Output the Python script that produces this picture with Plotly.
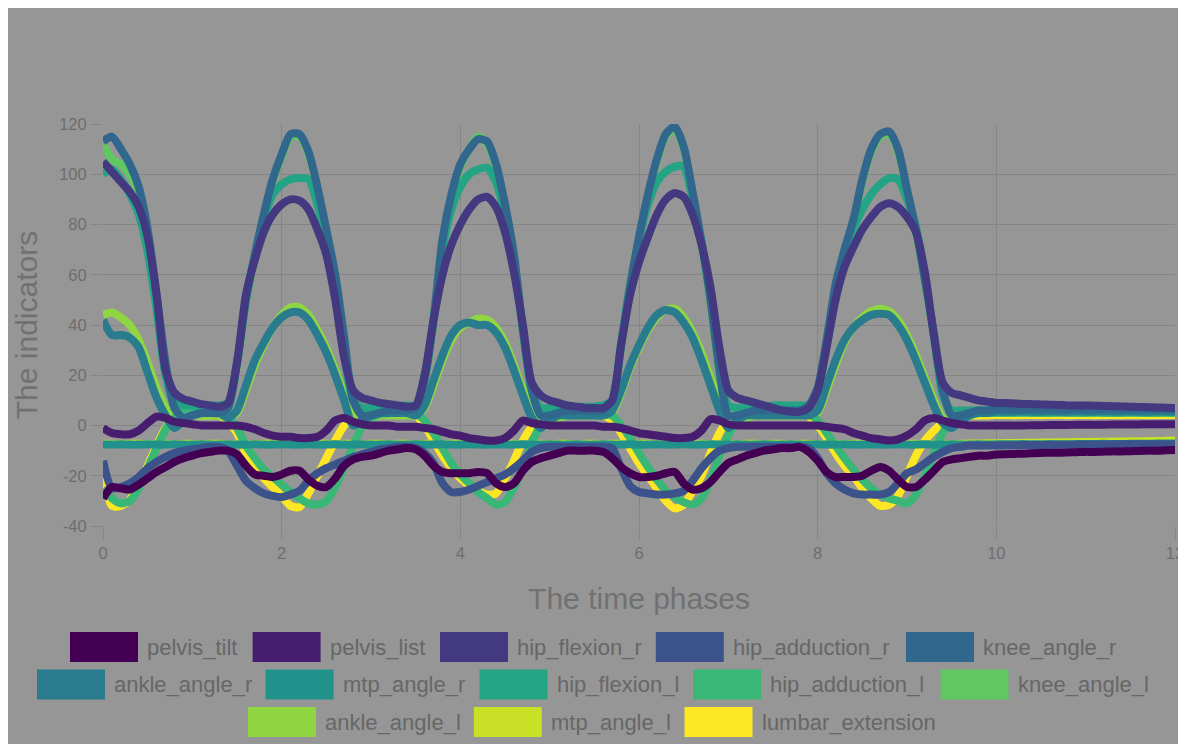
import plotly.graph_objects as go

# ---------------- data ----------------
TIME = [round(0.1 * i, 1) for i in range(121)]

NAMES = ["pelvis_tilt", "pelvis_list", "hip_flexion_r", "hip_adduction_r", "knee_angle_r",
         "ankle_angle_r", "mtp_angle_r", "hip_flexion_l", "hip_adduction_l", "knee_angle_l",
         "ankle_angle_l", "mtp_angle_l", "lumbar_extension"]

X_TICKS = [0, 2, 4, 6, 8, 10, 12]
X_TICK_TEXT = ["0", "2", "4", "6", "8", "10", "12"]
Y_TICKS = [-40, -20, 0, 20, 40, 60, 80, 100, 120]
Y_TICK_TEXT = ["-40", "-20", "0", "20", "40", "60", "80", "100", "120"]

pelvis_tilt = [
    -29, -24.5, -25, -25.5, -23.5, -21, -18.5, -16.5, -14.5, -13,
    -12, -11, -10.5, -10, -10, -11.5, -16, -19.5, -20, -20.5,
    -19.5, -18, -18, -21.5, -24, -24.5, -21, -16, -13.5, -12.5,
    -12, -11, -10, -9.5, -9, -9.5, -12, -16, -18.5, -19,
    -19, -19, -18.5, -19, -23, -24.5, -23, -18, -14.5, -13,
    -12, -11, -10, -10, -10, -10, -10.5, -13, -16.5, -19,
    -20.5, -20.5, -20, -19, -18.5, -23, -25.5, -25, -22.5, -18.5,
    -15, -13.5, -12, -11, -10, -9.5, -9, -9, -8.5, -10.5,
    -14, -18.5, -20.5, -20.5, -20.5, -20, -18, -16.5, -18, -21.5,
    -24.5, -24.5, -21.5, -18, -14.5, -13.5, -13, -12.5, -12, -12,
    -11.5, -11.4, -11.3, -11.2, -11, -10.9, -10.8, -10.8, -10.7, -10.6,
    -10.5, -10.5, -10.4, -10.3, -10.3, -10.2, -10.1, -10, -10, -9.9,
    -9.8]

pelvis_list = [
    -1, -3, -3.5, -3.5, -2, 1, 3.5, 3, 1.5, 1,
    0.5, 0, 0, 0, 0, 0, -0.5, -1.5, -3, -4,
    -4.5, -4.5, -5, -5, -4.5, -2, 2, 3, 1.5, 0.5,
    0, 0, 0, -0.5, -0.5, -0.5, -1, -1.5, -2.5, -3.5,
    -4, -5, -5.5, -6, -6, -5, -2, 2, 1, 0.5,
    0, 0, 0, 0, 0, 0, -0.5, -0.5, -1, -2,
    -3, -3.5, -4, -4.5, -5, -5, -4.5, -2, 2.5, 2,
    0.5, 0, 0, 0, 0, 0, 0, 0, 0, 0,
    0, -0.5, -1, -1.5, -3, -4, -5, -5.5, -6, -5.5,
    -4, -1.5, 2, 3, 2, 1, 0.5, 0, 0, 0,
    0, 0, 0, 0, 0.1, 0.1, 0.2, 0.2, 0.2, 0.3,
    0.3, 0.3, 0.3, 0.4, 0.4, 0.4, 0.4, 0.5, 0.5, 0.5,
    0.5]

hip_flexion_r = [
    105, 101, 97, 93, 87, 75, 52, 22, 13, 10.5,
    9.5, 8.5, 8, 7.5, 9, 25, 52, 66, 77, 84,
    88, 90, 89.5, 86, 78, 68, 50, 27, 14, 11,
    10, 9, 8.5, 8, 7.5, 8, 20, 42, 60, 72,
    80, 86, 90, 91, 87, 77, 61, 40, 17, 12,
    10, 9, 8, 7.5, 7, 7, 7, 10, 32, 52,
    65, 75, 84, 90, 92.5, 91, 84, 72, 55, 31,
    14, 11, 10, 9, 8, 7, 6, 5.5, 5.5, 7,
    14, 31, 50, 63, 71, 78, 83, 87, 88.5, 87,
    83, 77, 61, 36, 17, 13, 12, 11, 10, 9.5,
    9, 9, 8.8, 8.6, 8.5, 8.4, 8.3, 8.2, 8, 8,
    8, 7.9, 7.8, 7.7, 7.6, 7.5, 7.4, 7.3, 7.2, 7.1,
    7]

hip_adduction_r = [
    -14, -25, -24.5, -23, -20.5, -17, -14.5, -12.5, -11, -10,
    -9.5, -9, -8.5, -8.5, -10, -16, -22, -25, -27, -28,
    -28.5, -27.5, -26, -22, -19, -17, -15.5, -14, -12.5, -11.5,
    -10.5, -9.5, -9, -8.5, -8.5, -9, -11, -15, -23, -26.5,
    -26.5, -25.5, -24, -22.5, -21, -19.5, -17, -14, -10.5, -9,
    -8.5, -8.5, -8.5, -8.5, -8.5, -8.5, -8.5, -9, -17, -24,
    -26.5, -27, -27.5, -27.5, -27, -26, -22, -17, -13, -10,
    -9, -8.5, -8.5, -8.5, -8.5, -8.5, -8.5, -8.5, -8.5, -9,
    -13, -19, -23, -25.5, -27, -27.5, -27.5, -27.5, -26.5, -23,
    -19, -17.5, -15, -12.5, -10.5, -9, -8.5, -8, -8, -8,
    -8, -7.9, -7.9, -7.8, -7.8, -7.8, -7.7, -7.7, -7.7, -7.6,
    -7.6, -7.6, -7.6, -7.5, -7.5, -7.5, -7.5, -7.5, -7.5, -7.5,
    -7.5]

knee_angle_r = [
    113, 115, 110, 104, 95, 78, 52, 25, 7, 3,
    4, 5, 5, 5, 7, 25, 50, 68, 84, 98,
    108, 116, 116, 109, 95, 78, 60, 35, 10, 4,
    4, 5, 6, 6, 6, 7, 18, 42, 74, 92,
    104, 110, 114, 113, 104, 88, 68, 38, 14, 4,
    4, 5, 6, 6, 6, 6, 6, 10, 32, 55,
    75, 92, 106, 116, 119, 111, 93, 73, 50, 22,
    4, 4, 5, 6, 6, 6, 6, 6, 6, 8,
    15, 34, 56, 70, 82, 98, 110, 116, 117, 110,
    94, 78, 58, 37, 14, 4, 4, 5, 6, 6,
    6.5, 6.5, 6.4, 6.5, 6.6, 6.5, 6.5, 6.4, 6.5, 6.6,
    6.5, 6.5, 6.6, 6.5, 6.4, 6.5, 6.5, 6.6, 6.5, 6.5,
    6.5]

ankle_angle_r = [
    42, 36, 36, 35, 31, 21, 11, 4, -1, 2,
    4, 5, 5, 5, 3, 6, 16, 26, 33, 39,
    43, 45, 45, 42, 36, 29, 20, 10, 0, 2,
    4, 5, 5, 5, 5, 4, 8, 18, 28, 36,
    40, 41, 40, 40, 37, 31, 22, 12, 3, -1,
    2, 4, 4, 4, 4, 4, 4, 6, 14, 24,
    32, 39, 44, 46, 45, 41, 35, 26, 16, 6,
    -1, 2, 4, 4, 4, 4, 4, 4, 4, 4,
    6, 16, 26, 34, 39, 42, 44, 44.5, 44, 40,
    34, 26, 17, 8, 1, -1, 2, 4, 5, 5,
    5.5, 5.5, 5.5, 5.6, 5.5, 5.5, 5.6, 5.5, 5.5, 5.6,
    5.5, 5.5, 5.6, 5.5, 5.5, 5.6, 5.5, 5.5, 5.6, 5.5,
    5.5]

mtp_angle_r = [
    -7.6, -7.6, -7.5, -7.6, -7.6, -7.5, -7.6, -7.6, -7.5, -7.6,
    -7.6, -7.5, -7.6, -7.6, -7.5, -7.6, -7.6, -7.5, -7.6, -7.6,
    -7.5, -7.6, -7.6, -7.5, -7.6, -7.6, -7.5, -7.6, -7.6, -7.5,
    -7.6, -7.6, -7.5, -7.6, -7.6, -7.5, -7.6, -7.6, -7.5, -7.6,
    -7.6, -7.5, -7.6, -7.6, -7.5, -7.6, -7.6, -7.5, -7.6, -7.6,
    -7.5, -7.6, -7.6, -7.5, -7.6, -7.6, -7.5, -7.6, -7.6, -7.5,
    -7.6, -7.6, -7.5, -7.6, -7.6, -7.5, -7.6, -7.6, -7.5, -7.6,
    -7.6, -7.5, -7.6, -7.6, -7.5, -7.6, -7.6, -7.5, -7.6, -7.6,
    -7.5, -7.6, -7.6, -7.5, -7.6, -7.6, -7.5, -7.6, -7.6, -7.5,
    -7.6, -7.6, -7.5, -7.6, -7.6, -7.5, -7.6, -7.6, -7.5, -7.6,
    -7.5, -7.5, -7.5, -7.4, -7.5, -7.5, -7.4, -7.5, -7.5, -7.4,
    -7.4, -7.4, -7.3, -7.4, -7.4, -7.3, -7.3, -7.3, -7.2, -7.2,
    -7.2]

hip_flexion_l = [
    100, 102, 98, 92, 84, 69, 46, 20, 9, 8,
    8, 8, 8, 8, 9, 25, 50, 68, 82, 92,
    96, 98, 98.5, 98, 88, 73, 52, 28, 10, 7,
    7, 7, 7.5, 7.5, 8, 8, 20, 42, 70, 86,
    95, 100, 102, 102.5, 97, 84, 66, 38, 14, 7,
    7, 7, 7.5, 7.5, 7.5, 7.5, 8, 10, 33, 56,
    74, 88, 97, 101, 103, 103, 90, 73, 52, 26,
    8, 7, 7, 7.5, 7.5, 8, 8, 8, 8, 8,
    14, 33, 54, 68, 78, 86, 92, 96, 98.5, 98,
    90, 79, 60, 36, 12, 6, 6, 6, 6, 6,
    6, 6, 6.1, 6, 6, 6.1, 6, 6, 6.1, 6,
    6, 6.1, 6, 6, 6.1, 6, 6, 6.1, 6, 6,
    6]

hip_adduction_l = [
    -25, -29, -31, -30, -25, -17, -9, -1.5, 3, 5,
    5, 5, 5, 5, 3.5, -1, -8, -13, -17.5, -20.5,
    -23.5, -26.5, -29, -31, -31.5, -30, -24.5, -16.5, -8, -0.5,
    3, 4.5, 5, 5, 5, 5, 2, -3, -9, -15,
    -19.5, -23, -26.5, -29, -31.5, -30.5, -24.5, -17, -7, 0,
    3, 4.5, 4.5, 4.5, 4.5, 4.5, 4.5, 4, 0, -5,
    -11, -16.5, -21.5, -26, -28.5, -30.5, -31.5, -29, -22, -12,
    -4, 2, 4, 4.5, 4.5, 4.5, 4.5, 4.5, 4.5, 4.5,
    2, -3, -8, -13, -17.5, -21.5, -25, -27.5, -29, -30,
    -31, -27.5, -20, -11, -3, 2, 4, 5, 5, 5,
    5, 5, 5, 5.1, 5, 5, 5, 5.1, 5, 5,
    5, 5.1, 5, 5, 5, 5.1, 5, 5, 5, 5.1,
    5]

knee_angle_l = [
    112, 106, 104, 100, 92, 76, 50, 24, 7, 4,
    4, 5, 5, 5, 7, 24, 49, 67, 83, 97,
    107, 115, 115, 108, 94, 77, 59, 34, 10, 4,
    4, 5, 6, 6, 6, 7, 17, 41, 73, 91,
    103, 110, 115, 112, 103, 87, 67, 37, 13, 4,
    4, 5, 6, 6, 6, 6, 6, 10, 31, 54,
    74, 91, 105, 115, 118, 110, 92, 72, 49, 21,
    4, 4, 5, 6, 6, 6, 6, 6, 6, 8,
    14, 33, 55, 69, 81, 97, 109, 115, 116, 109,
    93, 77, 57, 36, 13, 4, 4, 5, 6, 6,
    6, 6, 6, 6.1, 6, 6, 6, 6.1, 6, 6,
    6, 6.1, 6, 6, 6, 6.1, 6, 6, 6, 6.1,
    6]

ankle_angle_l = [
    44, 45, 43, 40, 34, 25, 15, 7, 2, 3,
    4, 4, 4, 4, 3, 5, 14, 24, 32, 39,
    44, 47, 47, 44, 38, 31, 22, 12, 3, 1,
    3, 4, 4, 4, 4, 4, 7, 16, 26, 34,
    39, 41, 42.5, 42, 39, 33, 24, 14, 5, 1,
    2, 3, 4, 4, 4, 4, 4, 5, 13, 23,
    31, 38, 43, 46, 46.5, 43, 37, 29, 19, 9,
    1, 2, 3, 4, 4, 4, 4, 4, 4, 4,
    5, 14, 24, 33, 39, 43, 45.5, 46.5, 45.5, 42,
    36, 28, 19, 10, 3, 1, 3, 4, 5, 5,
    5, 5, 5, 5, 5.1, 5, 5, 5, 5, 5.1,
    5, 5, 5, 5, 5.1, 5, 5, 5, 5, 5.1,
    5]

mtp_angle_l = [
    -7.3, -7.3, -7.4, -7.3, -7.3, -7.4, -7.3, -7.3, -7.4, -7.3,
    -7.3, -7.4, -7.3, -7.3, -7.4, -7.3, -7.3, -7.4, -7.3, -7.3,
    -7.4, -7.3, -7.3, -7.4, -7.3, -7.3, -7.4, -7.3, -7.3, -7.4,
    -7.3, -7.3, -7.4, -7.3, -7.3, -7.4, -7.3, -7.3, -7.4, -7.3,
    -7.3, -7.4, -7.3, -7.3, -7.4, -7.3, -7.3, -7.4, -7.3, -7.3,
    -7.4, -7.3, -7.3, -7.4, -7.3, -7.3, -7.4, -7.3, -7.3, -7.4,
    -7.3, -7.3, -7.4, -7.3, -7.3, -7.4, -7.3, -7.3, -7.4, -7.3,
    -7.3, -7.4, -7.3, -7.3, -7.4, -7.3, -7.3, -7.4, -7.3, -7.3,
    -7.4, -7.3, -7.3, -7.4, -7.3, -7.3, -7.4, -7.3, -7.3, -7.4,
    -7.3, -7.3, -7.4, -7.3, -7.3, -7.4, -7.3, -7.2, -7.2, -7.1,
    -7.1, -7.0, -7.0, -6.9, -6.9, -6.8, -6.8, -6.7, -6.7, -6.6,
    -6.6, -6.5, -6.5, -6.4, -6.4, -6.3, -6.3, -6.2, -6.2, -6.1,
    -6.0]

lumbar_extension = [
    -19, -32, -32, -29.5, -23.5, -16, -8, -1, 2.5, 4.5,
    4.5, 4, 4, 4, 1.5, -3, -11, -16, -21, -24.5,
    -28, -32, -32.5, -27, -20, -13, -6, 0, 3.5, 5,
    5, 5, 4.5, 4.5, 4.5, 4, 0, -6, -12, -17,
    -21, -24, -26, -27.5, -27, -21, -14, -6, -0.5, 3,
    4, 4.5, 4.5, 4.5, 4.5, 4.5, 4, 2, -3, -9,
    -15, -20, -25, -30, -33, -31.5, -26, -20, -11, -3,
    2, 3.5, 4, 4, 4, 4, 4, 4, 4, 3.5,
    0, -5, -11, -16, -20, -25, -29, -32, -31.5, -28,
    -20, -12, -6, -2, 1, 3, 3.5, 4, 4, 4,
    4.2, 4.2, 4.1, 4.2, 4.2, 4.1, 4.2, 4.2, 4.1, 4.2,
    4.2, 4.1, 4.2, 4.2, 4.1, 4.2, 4.2, 4.1, 4.2, 4.2,
    4.2]

SERIES = [pelvis_tilt, pelvis_list, hip_flexion_r, hip_adduction_r, knee_angle_r,
          ankle_angle_r, mtp_angle_r, hip_flexion_l, hip_adduction_l, knee_angle_l,
          ankle_angle_l, mtp_angle_l, lumbar_extension]

# ---------------- style ----------------
COLORS = ["#440154", "#471e6f", "#433981", "#3b528a", "#31678d", "#287c8e", "#21918c",
          "#22a485", "#39b777", "#5fc860", "#90d643", "#c8e026", "#fde725"]
BG = "#969696"
GRID = "#858585"
FONT = "Liberation Sans, Arial, Helvetica, sans-serif"

# the page body has an 8px margin; the figure fills the rest of the window
OFF = 8
W, H = 1186 - OFF, 744 - OFF
ML, MR, MT, MB = 95, 11, 116, 218
PW, PH = W - ML - MR, H - MT - MB


def px(x):
    """page x pixel -> paper coordinate"""
    return (x - OFF - ML) / PW


def py(y):
    """page y pixel -> paper coordinate"""
    return (H - MB - (y - OFF)) / PH


fig = go.Figure()
# first series drawn on top -> add in reverse order
for name, color, ys in reversed(list(zip(NAMES, COLORS, SERIES))):
    fig.add_trace(go.Scatter(x=TIME, y=ys, mode="lines", name=name,
                             line=dict(color=color, width=8, shape="spline", smoothing=0.7),
                             showlegend=False, hoverinfo="skip"))

shapes = []
annotations = []

# manual legend (wide colour swatches), positions in page pixels
LEG_ROWS = [
    [(70, 0), (252.6, 1), (440, 2), (655.8, 3), (906, 4)],
    [(37, 5), (265.6, 6), (479.5, 7), (693, 8), (940.5, 9)],
    [(248, 10), (473.8, 11), (684.5, 12)],
]
ROW_TOP = [632, 669.5, 707]
SW_W, SW_H = 68, 30
for r, row in enumerate(LEG_ROWS):
    top = ROW_TOP[r]
    for x0, idx in row:
        shapes.append(dict(type="rect", xref="paper", yref="paper",
                           x0=px(x0), x1=px(x0 + SW_W), y0=py(top + SW_H), y1=py(top),
                           fillcolor=COLORS[idx], line=dict(width=0)))
        annotations.append(dict(xref="paper", yref="paper", x=px(x0 + SW_W + 7),
                                y=py(top + SW_H / 2), text=NAMES[idx], showarrow=False,
                                xanchor="left", yanchor="middle",
                                font=dict(size=22, color="#676767", family=FONT)))

fig.update_layout(
    width=W, height=H,
    margin=dict(l=ML, r=MR, t=MT, b=MB, autoexpand=False),
    paper_bgcolor=BG, plot_bgcolor=BG,
    font=dict(family=FONT, color="#6b6b6b"),
    showlegend=False,
    shapes=shapes, annotations=annotations,
)
fig.update_xaxes(range=[0, 12], tickvals=X_TICKS, ticktext=X_TICK_TEXT,
                 ticks="outside", ticklen=12, tickwidth=1, tickcolor=GRID,
                 showgrid=True, gridcolor=GRID, gridwidth=1, zeroline=False, showline=False,
                 tickfont=dict(size=16.5, color="#6e6e6e", family=FONT),
                 title=dict(text="The time phases", standoff=27,
                            font=dict(size=30, color="#717171", family=FONT)))
fig.update_yaxes(range=[-40, 120], tickvals=Y_TICKS, ticktext=Y_TICK_TEXT,
                 ticks="outside", ticklen=12, tickwidth=1, tickcolor=GRID,
                 showgrid=True, gridcolor=GRID, gridwidth=1, zeroline=False, showline=False,
                 tickfont=dict(size=16.5, color="#6e6e6e", family=FONT),
                 title=dict(text="The indicators", standoff=12,
                            font=dict(size=30, color="#717171", family=FONT)))

fig.write_html("out.html")
